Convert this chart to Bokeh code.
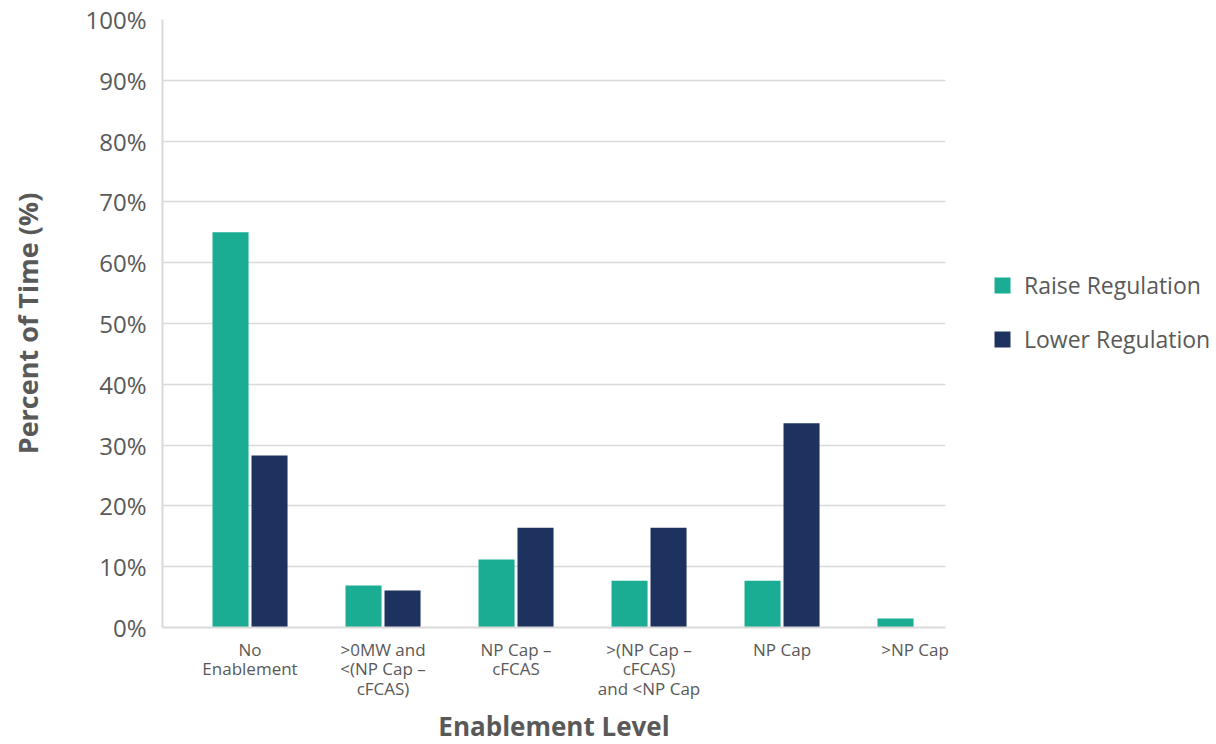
from bokeh.plotting import figure
from bokeh.models import (Range1d, FixedTicker, Legend, LegendItem, ColumnDataSource)
from bokeh.transform import dodge
from bokeh.embed import file_html
from bokeh.resources import INLINE

categories = ["No\nEnablement", ">0MW and\n<(NP Cap –\ncFCAS)", "NP Cap –\ncFCAS",
              ">(NP Cap –\ncFCAS)\nand <NP Cap", "NP Cap", ">NP Cap"]
raise_reg = [65.0, 6.9, 11.2, 7.7, 7.7, 1.5]
lower_reg = [28.3, 6.1, 16.4, 16.4, 33.6, 0.0]
y_ticks = [0, 10, 20, 30, 40, 50, 60, 70, 80, 90, 100]

TEAL = "#1aad94"
NAVY = "#1d325e"
GRID = "#d9d9d9"
TXT = "#595959"
FONT = "Open Sans"

pos = list(range(len(categories)))
src = ColumnDataSource(dict(x=pos, raise_reg=raise_reg, lower_reg=lower_reg))

p = figure(width=1216, height=744, output_backend="svg", toolbar_location=None,
           x_range=Range1d(-0.658, 5.229), y_range=Range1d(0, 100),
           frame_width=783, frame_height=608,
           min_border_left=162, min_border_right=271, min_border_top=19, min_border_bottom=117)
p.outline_line_color = None
p.background_fill_color = "white"

r1 = p.vbar(x=dodge("x", -0.1466, range=p.x_range), top="raise_reg", width=0.271, source=src,
            fill_color=TEAL, line_color=None)
r2 = p.vbar(x=dodge("x", 0.1466, range=p.x_range), top="lower_reg", width=0.271, source=src,
            fill_color=NAVY, line_color=None)

# y axis
p.yaxis.ticker = FixedTicker(ticks=y_ticks)
p.yaxis.major_label_overrides = {t: f"{t}%" for t in y_ticks}
p.yaxis.major_label_text_font = FONT
p.yaxis.major_label_text_font_size = "24px"
p.yaxis.major_label_text_color = TXT
p.yaxis.major_label_standoff = 10
p.yaxis.major_tick_line_color = None
p.yaxis.minor_tick_line_color = None
p.yaxis.axis_line_color = GRID
p.yaxis.axis_line_width = 2
p.yaxis.axis_label = "Percent of Time (%)"
p.yaxis.axis_label_text_font = FONT
p.yaxis.axis_label_text_font_style = "bold"
p.yaxis.axis_label_text_font_size = "27px"
p.yaxis.axis_label_text_color = TXT
p.yaxis.axis_label_standoff = 36

# x axis
p.xaxis.ticker = FixedTicker(ticks=pos)
p.xaxis.major_label_overrides = {i: c for i, c in enumerate(categories)}
p.xaxis.major_label_text_font = FONT
p.xaxis.major_label_text_font_size = "17px"
p.xaxis.major_label_text_line_height = 0.85
p.xaxis.major_label_text_color = TXT
p.xaxis.major_label_standoff = 4
p.xaxis.major_tick_line_color = None
p.xaxis.minor_tick_line_color = None
p.xaxis.axis_line_color = GRID
p.xaxis.axis_line_width = 2
p.xaxis.axis_label = "Enablement Level"
p.xaxis.axis_label_text_font = FONT
p.xaxis.axis_label_text_font_style = "bold"
p.xaxis.axis_label_text_font_size = "26px"
p.xaxis.axis_label_text_line_height = 1.0
p.xaxis.axis_label_text_color = TXT
p.xaxis.axis_label_standoff = 5

p.xgrid.grid_line_color = None
p.ygrid.grid_line_color = GRID
p.ygrid.grid_line_width = 1.5
p.ygrid.ticker = FixedTicker(ticks=y_ticks)

legend = Legend(items=[LegendItem(label="Raise Regulation", renderers=[r1]),
                       LegendItem(label="Lower Regulation", renderers=[r2])],
                location=(47, 272), orientation="vertical",
                label_text_font=FONT, label_text_font_size="23px", label_text_color=TXT,
                glyph_width=20, glyph_height=20, label_height=28, spacing=22,
                label_standoff=12, padding=0, margin=0, border_line_color=None,
                background_fill_alpha=0)
p.add_layout(legend, "right")

open("out.html", "w").write(file_html(p, INLINE))
